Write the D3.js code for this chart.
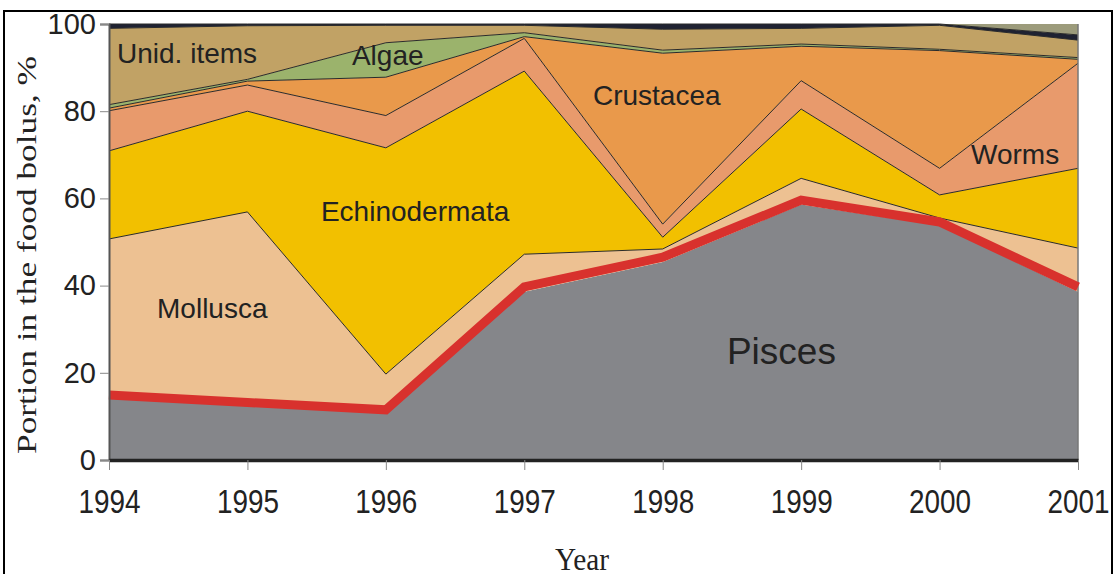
<!DOCTYPE html>
<html lang="en">
<head>
  <meta charset="utf-8">
  <title>Food bolus composition</title>
  <script src="https://d3js.org/d3.v7.min.js"></script>
  <style>
    body { margin: 0; background: #fff; }
  </style>
</head>
<body>
<script>
  // years on the x axis
  var years = [1994, 1995, 1996, 1997, 1998, 1999, 2000, 2001];

  // share of each prey group, %, stacked from bottom to top
  var pisces        = [14.2, 12.4, 10.8, 38.6, 45.4, 58.6, 53.8, 38.6];
  var mollusca      = [36.5, 44.5,  8.9,  8.6,  3.0,  6.0,  1.7, 10.0];
  var echinodermata = [20.2, 23.1, 51.9, 42.0,  2.7, 15.9,  5.3, 18.3];
  var worms         = [ 9.2,  6.0,  7.4,  7.5,  3.0,  6.5,  6.1, 24.1];
  var crustacea     = [ 0.6,  0.9,  8.8,  0.4, 39.2,  7.9, 27.0,  0.9];
  var algae         = [ 0.8,  0.4,  7.9,  0.9,  0.7,  0.5,  0.3,  0.4];
  var unidItems     = [17.5, 12.3,  4.0,  1.7,  4.8,  3.6,  5.5,  4.0];
  var other         = [ 1.0,  0.4,  0.3,  0.3,  1.2,  1.0,  0.3,  1.2];
  var misc          = [ 0.0,  0.0,  0.0,  0.0,  0.0,  0.0,  0.0,  2.5];

  // red highlight line over the fish share
  var piscesLine    = [14.9, 13.2, 11.5, 39.7, 46.5, 59.6, 54.6, 39.7];

  var yTicks = [0, 20, 40, 60, 80, 100];

  var keys = ["Pisces", "Mollusca", "Echinodermata", "Worms", "Crustacea",
              "Algae", "Unid. items", "Other", "Misc"];
  var series = [pisces, mollusca, echinodermata, worms, crustacea,
                algae, unidItems, other, misc];
  var colors = ["#85868a", "#edc192", "#f2c000", "#e89a6c", "#e9994b",
                "#9bb36c", "#c1a265", "#1f2232", "#9c9b7b"];

  // in-chart labels, anchored in data units (year, %)
  var labels = [
    {text: "Unid. items",   year: 1994.058, value: 91.0, size: 28},
    {text: "Algae",         year: 1995.755, value: 90.6, size: 28},
    {text: "Crustacea",     year: 1997.496, value: 81.4, size: 28},
    {text: "Worms",         year: 2000.227, value: 67.9, size: 28},
    {text: "Echinodermata", year: 1995.531, value: 54.9, size: 28},
    {text: "Mollusca",      year: 1994.347, value: 32.6, size: 28},
    {text: "Pisces",        year: 1998.464, value: 22.0, size: 37}
  ];

  var table = years.map(function(yr, i) {
    var row = {year: yr};
    keys.forEach(function(k, j) { row[k] = series[j][i]; });
    return row;
  });

  var width = 1115, height = 574;
  var margin = {top: 24, right: 37, bottom: 114, left: 109};

  var svg = d3.select("body")
              .append("svg")
              .attr("width", width)
              .attr("height", height);

  // outer frame of the figure
  svg.append("rect")
     .attr("x", 4).attr("y", 11)
     .attr("width", 1108).attr("height", 620)
     .attr("fill", "none")
     .attr("stroke", "#000")
     .attr("stroke-width", 2);

  var xScale = d3.scaleLinear()
                 .domain([1994, 2001])
                 .range([margin.left, width - margin.right]);

  var yScale = d3.scaleLinear()
                 .domain([0, 100])
                 .range([height - margin.bottom, margin.top]);

  var stack = d3.stack().keys(keys);
  var layers = stack(table);

  var area = d3.area()
               .x(function(d) { return xScale(d.data.year); })
               .y0(function(d) { return yScale(d[0]); })
               .y1(function(d) { return yScale(d[1]); });

  var topLine = d3.line()
                  .x(function(d) { return xScale(d.data.year); })
                  .y(function(d) { return yScale(d[1]); });

  svg.selectAll("path.layer")
     .data(layers)
     .enter()
       .append("path")
       .attr("class", "layer")
       .attr("d", area)
       .attr("fill", function(d, i) { return colors[i]; });

  // thin dark boundaries between the groups
  svg.selectAll("path.edge")
     .data(layers.slice(1, 8))
     .enter()
       .append("path")
       .attr("class", "edge")
       .attr("d", topLine)
       .attr("fill", "none")
       .attr("stroke", "#2a2a2a")
       .attr("stroke-width", 1);

  // right edge of the plot
  svg.append("line")
     .attr("x1", xScale(2001)).attr("x2", xScale(2001))
     .attr("y1", yScale(100)).attr("y2", yScale(0))
     .attr("stroke", "#777")
     .attr("stroke-width", 1.5);

  // red line on top of the fish share
  var redLine = d3.line()
                  .x(function(d, i) { return xScale(years[i]); })
                  .y(function(d) { return yScale(d); });

  svg.append("path")
     .datum(piscesLine)
     .attr("d", redLine)
     .attr("fill", "none")
     .attr("stroke", "#d8312d")
     .attr("stroke-width", 9)
     .attr("stroke-linejoin", "miter");

  // y axis
  var yAxis = d3.axisLeft(yScale)
                .tickValues(yTicks)
                .tickSize(9)
                .tickPadding(4);

  var gy = svg.append("g")
              .attr("transform", "translate(" + margin.left + ",0)")
              .call(yAxis);
  gy.select(".domain").attr("stroke", "#555").attr("stroke-width", 2);
  gy.selectAll(".tick line").attr("stroke", "#888");
  gy.selectAll("text")
    .attr("font-family", "Liberation Sans, Arial, sans-serif")
    .attr("font-size", "29px")
    .attr("fill", "#222");

  // x axis
  var xAxis = d3.axisBottom(xScale)
                .tickValues(years)
                .tickFormat(d3.format("d"))
                .tickSize(10)
                .tickSizeOuter(0)
                .tickPadding(20);

  var gx = svg.append("g")
              .attr("transform", "translate(0," + yScale(0) + ")")
              .call(xAxis);
  gx.select(".domain").attr("stroke", "#222").attr("stroke-width", 3.5);
  gx.selectAll(".tick line").attr("stroke", "#888");
  gx.selectAll("text")
    .attr("font-family", "Liberation Sans, Arial, sans-serif")
    .attr("font-size", "33px")
    .attr("textLength", 62)
    .attr("lengthAdjust", "spacingAndGlyphs")
    .attr("fill", "#222");

  // axis titles
  svg.append("text")
     .attr("transform", "translate(36," + 255 + ") rotate(-90)")
     .attr("text-anchor", "middle")
     .attr("font-family", "Liberation Serif, Times New Roman, serif")
     .attr("font-size", "27px")
     .attr("textLength", 398)
     .attr("lengthAdjust", "spacingAndGlyphs")
     .attr("fill", "#222")
     .text("Portion in the food bolus, %");

  svg.append("text")
     .attr("x", 582)
     .attr("y", 570)
     .attr("text-anchor", "middle")
     .attr("font-family", "Liberation Serif, Times New Roman, serif")
     .attr("font-size", "31px")
     .attr("textLength", 54)
     .attr("lengthAdjust", "spacingAndGlyphs")
     .attr("fill", "#222")
     .text("Year");

  // group names inside the chart
  svg.selectAll("text.name")
     .data(labels)
     .enter()
       .append("text")
       .attr("class", "name")
       .attr("x", function(d) { return xScale(d.year); })
       .attr("y", function(d) { return yScale(d.value); })
       .attr("font-family", "Liberation Sans, Arial, sans-serif")
       .attr("font-size", function(d) { return d.size + "px"; })
       .attr("fill", "#222")
       .text(function(d) { return d.text; });
</script>
</body>
</html>
